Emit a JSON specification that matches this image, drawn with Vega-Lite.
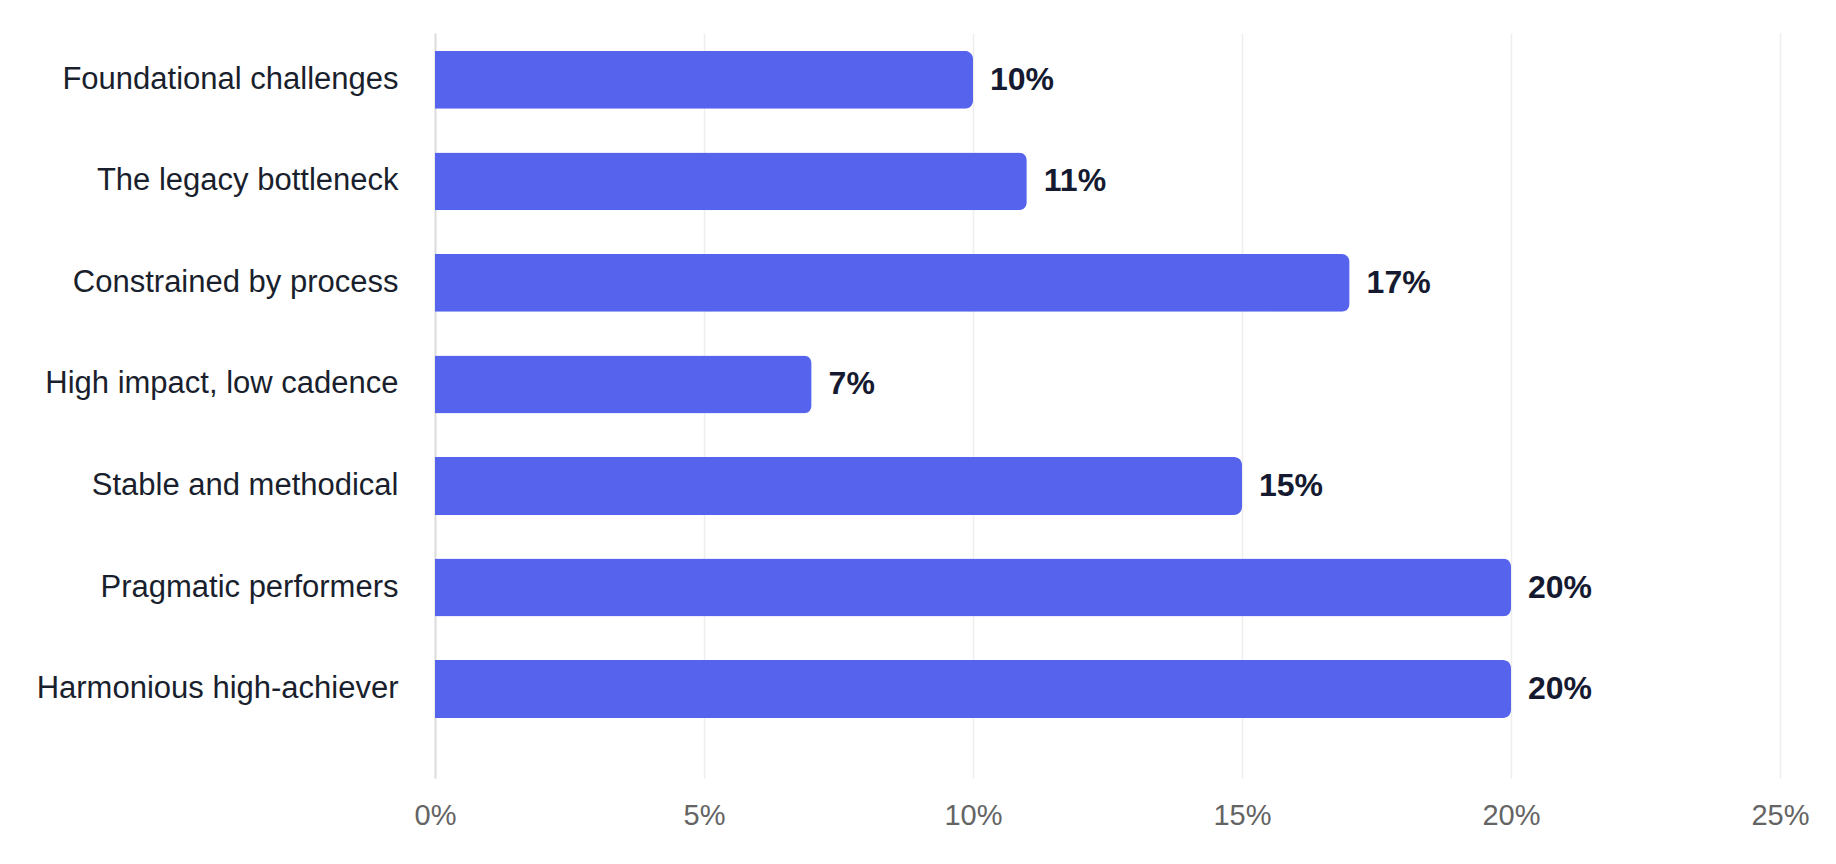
{
  "$schema": "https://vega.github.io/schema/vega-lite/v6.json",
  "autosize": "none",
  "padding": {"left": 435, "top": 33, "right": 56, "bottom": 86},
  "width": 1345,
  "height": 745,
  "background": "white",
  "data": {
    "values": [
      {"segment": "Foundational challenges", "share": 0.10},
      {"segment": "The legacy bottleneck", "share": 0.11},
      {"segment": "Constrained by process", "share": 0.17},
      {"segment": "High impact, low cadence", "share": 0.07},
      {"segment": "Stable and methodical", "share": 0.15},
      {"segment": "Pragmatic performers", "share": 0.20},
      {"segment": "Harmonious high-achiever", "share": 0.20}
    ]
  },
  "encoding": {
    "y": {
      "field": "segment",
      "type": "nominal",
      "sort": null,
      "scale": {"paddingInner": 0.43, "paddingOuter": 0.384, "align": 0.23},
      "axis": {
        "title": null,
        "ticks": false,
        "domain": true,
        "domainColor": "#dddddd",
        "domainWidth": 2,
        "labelPadding": 37,
        "labelFont": "Liberation Sans",
        "labelFontSize": 31,
        "labelColor": "#1a1f2e",
        "labelLimit": 500
      }
    },
    "x": {
      "field": "share",
      "type": "quantitative",
      "scale": {"domain": [0, 0.25]},
      "axis": {
        "title": null,
        "values": [0, 0.05, 0.1, 0.15, 0.2, 0.25],
        "format": ".0%",
        "domain": false,
        "ticks": false,
        "grid": true,
        "gridColor": "#eeeeef",
        "gridWidth": 1.5,
        "labelFlush": false,
        "labelPadding": 23,
        "labelFont": "Liberation Sans",
        "labelFontSize": 29,
        "labelColor": "#646464"
      }
    }
  },
  "layer": [
    {
      "mark": {"type": "bar", "color": "#5664ED", "cornerRadiusEnd": 8}
    },
    {
      "mark": {
        "type": "text",
        "align": "left",
        "baseline": "middle",
        "dx": 17,
        "font": "Liberation Sans",
        "fontSize": 32,
        "fontWeight": "bold",
        "color": "#151a30"
      },
      "encoding": {
        "text": {"field": "share", "type": "quantitative", "format": ".0%"}
      }
    }
  ],
  "config": {
    "view": {"stroke": null}
  }
}
